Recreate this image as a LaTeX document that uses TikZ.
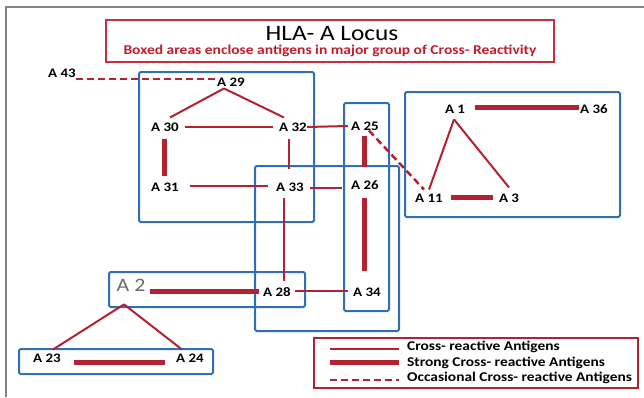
\documentclass[tikz,border=0pt]{standalone}
\usepackage{fontspec}
\setmainfont{Carlito}[FakeStretch=1.15]
\usetikzlibrary{calc}
\definecolor{lred}{RGB}{178,34,48}
\definecolor{tred}{RGB}{190,30,45}
\definecolor{bred}{RGB}{200,45,65}
\definecolor{bblue}{RGB}{48,112,178}
\definecolor{fgray}{RGB}{130,130,130}
\definecolor{agray}{RGB}{105,105,105}
\begin{document}
\begin{tikzpicture}[x=1pt,y=-1pt,
  lab/.style={inner sep=0pt, font=\fontsize{13}{15}\selectfont\bfseries},
  cr/.style={draw=lred, line width=2pt},
  strong/.style={draw=lred, line width=5pt},
  occ/.style={draw=lred, line width=2.5pt, dash pattern=on 7pt off 4pt},
  grp/.style={draw=bblue, line width=2pt, rounded corners=1.5pt},
  legtext/.style={inner sep=0pt, anchor=west, font=\fontsize{13.4}{15}\selectfont\bfseries}]
\useasboundingbox (0,0) rectangle (644,397);
\fill[white] (0,0) rectangle (644,397);
\draw[fgray, line width=2pt] (6,397) -- (6,7) -- (644,7);

% title
\draw[bred, line width=1.5pt] (106,20) rectangle (554,62);
\node[inner sep=0pt, font=\fontsize{22}{24}\selectfont] (title) at (332,34) {HLA- A Locus};
\node[inner sep=0pt, text=tred, font=\fontsize{13.5}{15}\selectfont\bfseries] (sub) at (330,51) {Boxed areas enclose antigens in major group of Cross- Reactivity};

% group boxes
\draw[grp] (139,72) rectangle (314,222);
\draw[grp] (344,103) rectangle (389,311);
\draw[grp] (255,166) rectangle (399,331);
\draw[grp] (405,92) rectangle (620,217);
\draw[grp] (109,272) rectangle (305,307);
\draw[grp] (19,349) rectangle (213,374);

% antigens
\node[lab] (A43) at (62,73) {A 43};
\node[lab] (A29) at (231,82) {A 29};
\node[lab] (A30) at (165,127) {A 30};
\node[lab] (A32) at (293,127) {A 32};
\node[lab] (A25) at (365,126) {A 25};
\node[lab] (A31) at (165,187) {A 31};
\node[lab] (A33) at (290,187) {A 33};
\node[lab] (A26) at (365,185) {A 26};
\node[lab] (A1) at (455,109) {A 1};
\node[lab] (A36) at (594,109) {A 36};
\node[lab] (A11) at (429,198) {A 11};
\node[lab] (A3) at (509,198) {A 3};
\node[inner sep=0pt, text=agray, font=\fontsize{19}{21}\selectfont] (A2) at (131,285) {A 2};
\node[lab] (A28) at (277,292) {A 28};
\node[lab] (A34) at (367,292) {A 34};
\node[lab] (A23) at (47,358) {A 23};
\node[lab] (A24) at (190,358) {A 24};

\coordinate (p29) at ($(A29.south)+(-7,2)$);
\coordinate (p1) at ($(A1.south)+(-1,6)$);
\coordinate (p2) at ($(A2.south)+(-7,13)$);

% connectors
\draw[occ] ($(A43.east)+(0,6)$) -- ($(A29.west)+(0,-3)$);
\draw[cr] (p29) -- ($(A30.north)+(5,-5)$);
\draw[cr] (p29) -- ($(A32.north)+(-9,-5)$);
\draw[cr] ($(A30.east)+(6,0)$) -- ($(A32.west)+(-6,0)$);
\draw[strong] ($(A30.south)+(-1,7)$) -- ($(A31.north)+(-1,-6)$);
\draw[cr] ($(A32.south)+(-4,7)$) -- ($(A33.north)+(-1,-13)$);
\draw[cr] (A32.east) -- ($(A25.west)+(-3,0)$);
\draw[cr] ($(A31.east)+(11,-1)$) -- ($(A33.west)+(-8,-1)$);
\draw[strong] ($(A25.south)+(-1,5)$) -- ($(A26.north)+(-1,-13)$);
\draw[occ] ($(A25.south east)+(-10,0)$) -- ($(A11.north)+(-5,-4)$);
\draw[cr] ($(A33.east)+(6,1)$) -- ($(A26.west)+(-9,3)$);
\draw[cr] ($(A33.south)+(-6,6)$) -- ($(A28.north)+(7,-6)$);
\draw[strong] ($(A26.south)+(-1,8)$) -- ($(A34.north)+(-3,-17)$);
\draw[strong] ($(A1.east)+(9.5,-2)$) -- ($(A36.west)+(-1,-2)$);
\draw[cr] (p1) -- ($(A11.north)+(0,-4)$);
\draw[cr] (p1) -- ($(A3.north)+(0,-6)$);
\draw[strong] ($(A11.east)+(8,-1)$) -- ($(A3.west)+(-6,-1)$);
\draw[strong] ($(A2.east)+(4,6)$) -- ($(A28.west)+(-4,-1)$);
\draw[cr] ($(A28.east)+(4,-1)$) -- ($(A34.west)+(-5,-1)$);
\draw[cr] (p2) -- ($(A23.north)+(6,-4)$);
\draw[cr] (p2) -- ($(A24.north)+(-8,-4)$);
\draw[strong] ($(A23.east)+(13,4)$) -- ($(A24.west)+(-11,4)$);

% legend
\draw[lred, line width=1.5pt] (314,338) rectangle (638,388);
\node[legtext] (L1) at (407,347) {Cross- reactive Antigens};
\node[legtext] (L2) at (407,363) {Strong Cross- reactive Antigens};
\node[legtext] (L3) at (407,378) {Occasional Cross- reactive Antigens};
\draw[cr] ($(L1.west)+(-77,2)$) -- ($(L1.west)+(-8,2)$);
\draw[strong] ($(L2.west)+(-77,-1)$) -- ($(L2.west)+(-8,-1)$);
\draw[occ] ($(L3.west)+(-77,2)$) -- ($(L3.west)+(-8,2)$);
\end{tikzpicture}
\end{document}
